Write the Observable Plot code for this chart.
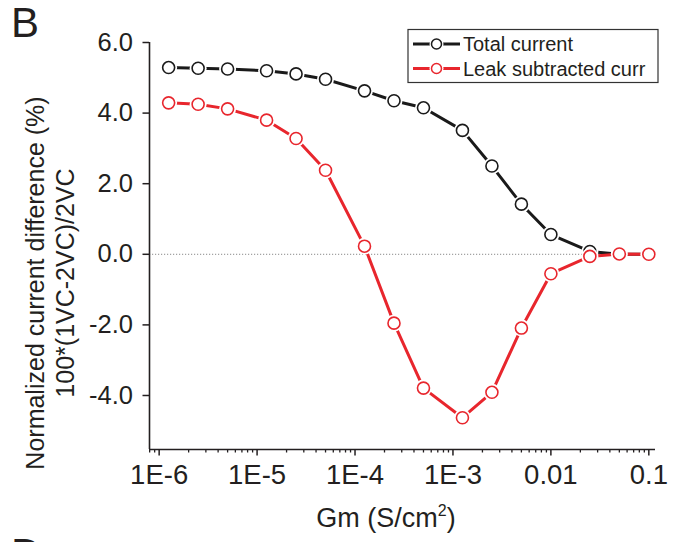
<!DOCTYPE html>
<html><head><meta charset="utf-8">
<script src="https://cdn.jsdelivr.net/npm/d3@7"></script>
<script src="https://cdn.jsdelivr.net/npm/@observablehq/plot@0.6"></script>
<style>html,body{margin:0;padding:0;background:#fff;} #chart svg{display:block}</style>
</head><body><div id="chart"></div>
<script>
// ---- data ----
const gm = [1.25e-6, 2.5e-6, 5e-6, 1.25e-5, 2.5e-5, 5e-5, 1.25e-4, 2.5e-4, 5e-4, 1.25e-3, 2.5e-3, 5e-3, 0.01, 0.025, 0.05, 0.1];
const totalCurrent = [5.29, 5.27, 5.25, 5.20, 5.11, 4.96, 4.63, 4.35, 4.15, 3.51, 2.50, 1.42, 0.56, 0.08, 0.00, 0.00];
const leakSubtracted = [4.29, 4.25, 4.12, 3.80, 3.28, 2.38, 0.23, -1.95, -3.79, -4.63, -3.91, -2.09, -0.55, -0.06, 0.01, 0.00];
const seriesNames = ["Total current", "Leak subtracted curr"];
const seriesColors = ["#1a1a1a", "#e8262d"];
const xMajorTicks = [1e-6, 1e-5, 1e-4, 1e-3, 0.01, 0.1];
const xTickLabels = ["1E-6", "1E-5", "1E-4", "1E-3", "0.01", "0.1"];
const yTicks = [-4, -2, 0, 2, 4, 6];
const xDomain = [7.97e-7, 0.117];
const yDomain = [-5.53, 6.0];
const panelLabel = "B";
const nextPanelLabel = "D";
const yTitleLines = ["Normalized current difference (%)", "100*(1VC-2VC)/2VC"];
const xTitle = ["Gm (S/cm", "2", ")"];

// ---- build ----
const font = "'Liberation Sans', Arial, Helvetica, sans-serif";
const ink = "#231f20";
const W = 681, H = 542;
const seriesData = [totalCurrent, leakSubtracted].map((vals, k) =>
  gm.map((g, i) => ({gm: g, v: vals[i], series: seriesNames[k]})));
const labelMap = new Map(xMajorTicks.map((t, i) => [t, xTickLabels[i]]));
const minorTicks = [];
for (let e = -7; e <= -1; e++) for (let k = 2; k <= 9; k++) {
  const v = k * Math.pow(10, e);
  if (v >= xDomain[0] && v <= xDomain[1]) minorTicks.push(v);
}

const seriesMarks = seriesData.flatMap((d, k) => [
  Plot.line(d, {x: "gm", y: "v", stroke: seriesColors[k], strokeWidth: 3}),
  Plot.dot(d, {x: "gm", y: "v", r: 8.5, fill: "white"}),
  Plot.dot(d, {x: "gm", y: "v", r: 6, fill: "white", stroke: seriesColors[k], strokeWidth: 1.6})
]);

const plot = Plot.plot({
  width: W, height: H,
  marginLeft: 149, marginRight: 26, marginTop: 42, marginBottom: 93,
  style: {fontFamily: font, color: ink, background: "#fff", overflow: "hidden"},
  x: {type: "log", domain: xDomain},
  y: {domain: yDomain},
  marks: [
    Plot.ruleY([0], {stroke: "#8a8a8a", strokeWidth: 1, strokeDasharray: "1.2,1.8"}),
    Plot.axisY(yTicks, {tickSize: 6.5, tickPadding: 10, tickFormat: d => d.toFixed(1), fontSize: 25.5, stroke: ink, strokeWidth: 1.5, label: null}),
    Plot.axisX(minorTicks, {tickSize: 3.5, tickFormat: () => "", stroke: ink, strokeWidth: 1.3, label: null}),
    Plot.axisX(xMajorTicks, {tickSize: 6.5, tickPadding: 8, tickFormat: d => labelMap.get(d), fontSize: 27.5, stroke: ink, strokeWidth: 1.5, label: null}),
    Plot.ruleX([xDomain[0]], {stroke: ink, strokeWidth: 1.6}),
    Plot.ruleY([yDomain[0]], {stroke: ink, strokeWidth: 1.6}),
    ...seriesMarks
  ]
});

const svg = d3.select(plot);
// panel labels
svg.append("text").attr("x", 11).attr("y", 37).attr("font-size", 42).attr("fill", ink)
  .attr("text-anchor", "start").attr("font-family", font).text(panelLabel);
svg.append("text").attr("x", 11).attr("y", 568).attr("font-size", 42).attr("fill", ink)
  .attr("text-anchor", "start").attr("font-family", font).text(nextPanelLabel);
// y title
const yt = svg.append("g").attr("transform", "translate(0,283) rotate(-90)")
  .attr("font-family", font).attr("font-size", 25).attr("fill", ink).attr("text-anchor", "middle");
yt.append("text").attr("x", 0).attr("y", 44).text(yTitleLines[0]);
yt.append("text").attr("x", 0).attr("y", 74).text(yTitleLines[1]);
// x title
const xt = svg.append("text").attr("x", 386).attr("y", 527).attr("text-anchor", "middle")
  .attr("font-family", font).attr("font-size", 27).attr("fill", ink);
xt.append("tspan").text(xTitle[0]);
xt.append("tspan").attr("font-size", 16).attr("dy", -11).text(xTitle[1]);
xt.append("tspan").attr("dy", 11).text(xTitle[2]);
// legend
const lg = svg.append("g").attr("font-family", font).attr("font-size", 20).attr("fill", ink)
  .attr("text-anchor", "start");
lg.append("rect").attr("x", 408).attr("y", 29.5).attr("width", 250).attr("height", 53)
  .attr("fill", "white").attr("stroke", "#333").attr("stroke-width", 1.2);
seriesNames.forEach((name, k) => {
  const cy = 44 + k * 24.5;
  lg.append("line").attr("x1", 413).attr("x2", 460).attr("y1", cy).attr("y2", cy)
    .attr("stroke", seriesColors[k]).attr("stroke-width", 3);
  lg.append("circle").attr("cx", 436.5).attr("cy", cy).attr("r", 7).attr("fill", "white");
  lg.append("circle").attr("cx", 436.5).attr("cy", cy).attr("r", 5).attr("fill", "white")
    .attr("stroke", seriesColors[k]).attr("stroke-width", 1.5);
  lg.append("text").attr("x", 463).attr("y", cy + 7).text(name);
});

document.getElementById("chart").appendChild(plot);
</script>
</body></html>
